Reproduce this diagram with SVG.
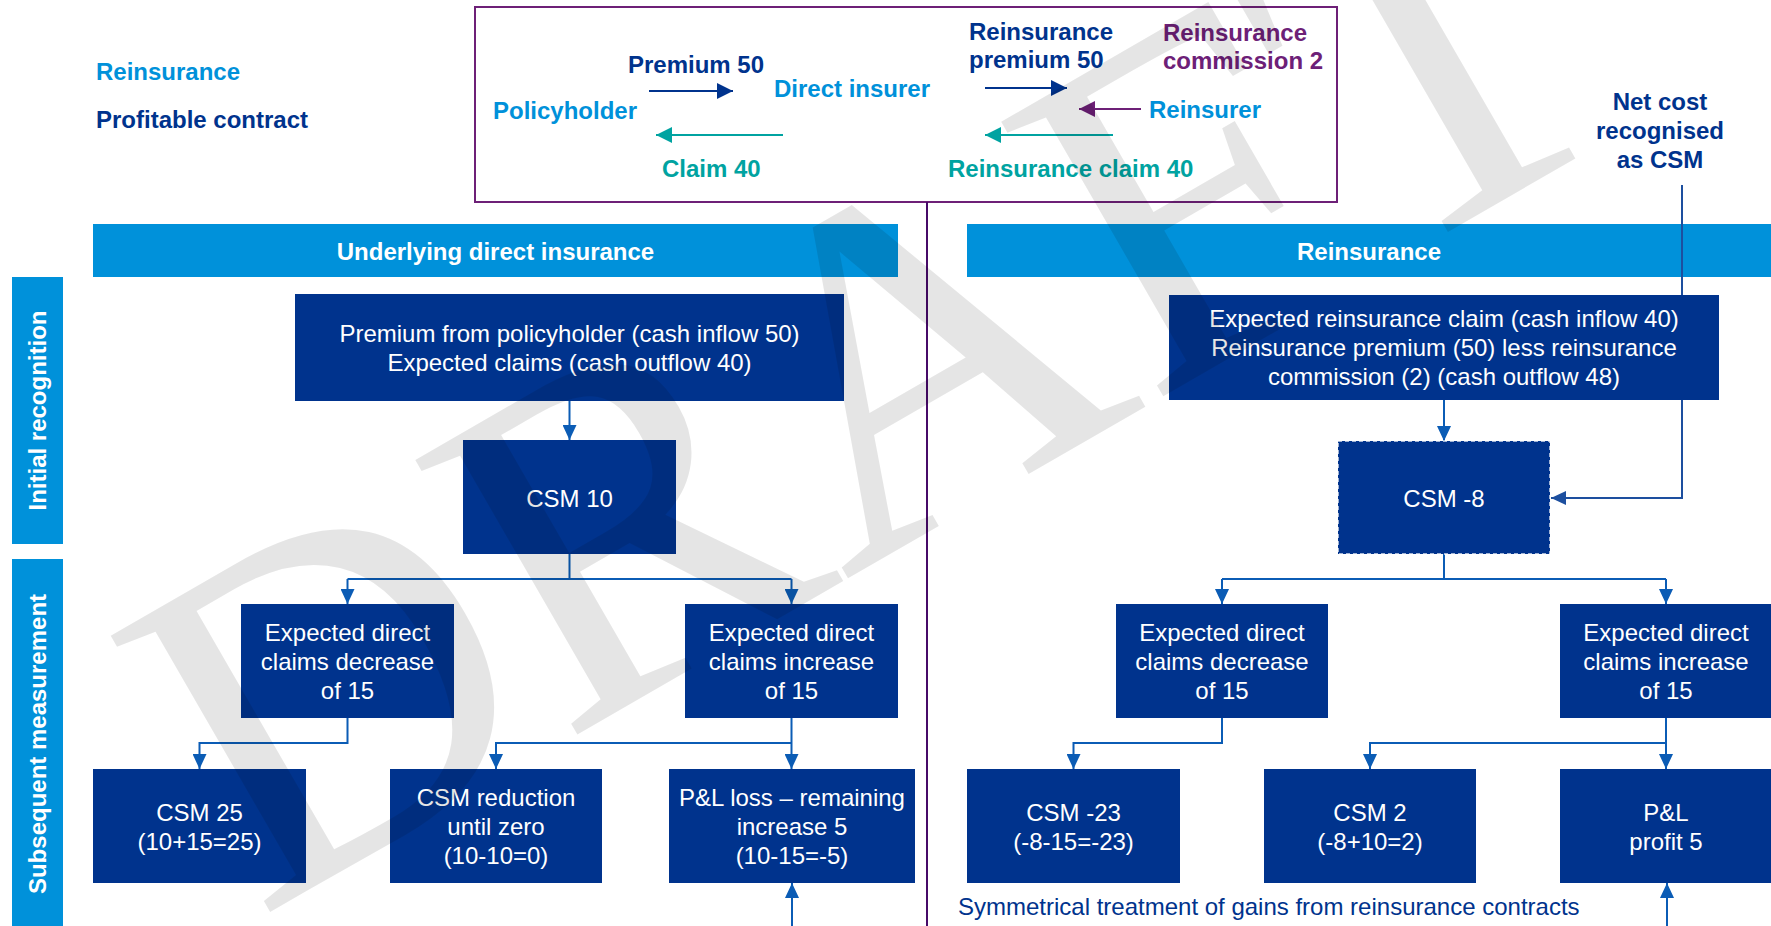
<svg xmlns="http://www.w3.org/2000/svg" width="1771" height="926" viewBox="0 0 1771 926">
<style>
text{font-family:"Liberation Sans",Arial,sans-serif;font-size:24px}
.b{font-weight:bold}
.lb{fill:#0091DA}
.db{fill:#00338D}
.tl{fill:#00A3A1}
.pu{fill:#6D2077}
.w{fill:#FFFFFF}
.box{fill:#00338D}
.hdr{fill:#0091DA}
.c{fill:none;stroke:#0B5CB5;stroke-width:2}
.m{text-anchor:middle}
</style>
<defs>
<marker id="ab" viewBox="0 0 15 14" refX="15" refY="7" markerWidth="15" markerHeight="14" markerUnits="userSpaceOnUse" orient="auto"><path d="M0,0L15,7L0,14z" fill="#0B5CB5"/></marker>
<marker id="an" viewBox="0 0 15 14" refX="15" refY="7" markerWidth="15" markerHeight="14" markerUnits="userSpaceOnUse" orient="auto"><path d="M0,0L15,7L0,14z" fill="#1D4F9F"/></marker>
<marker id="tn" viewBox="0 0 16 16" refX="16" refY="8" markerWidth="16" markerHeight="16" markerUnits="userSpaceOnUse" orient="auto"><path d="M0,0L16,8L0,16z" fill="#00338D"/></marker>
<marker id="tt" viewBox="0 0 16 16" refX="16" refY="8" markerWidth="16" markerHeight="16" markerUnits="userSpaceOnUse" orient="auto"><path d="M0,0L16,8L0,16z" fill="#00A3A1"/></marker>
<marker id="tp" viewBox="0 0 16 16" refX="16" refY="8" markerWidth="16" markerHeight="16" markerUnits="userSpaceOnUse" orient="auto"><path d="M0,0L16,8L0,16z" fill="#6D2077"/></marker>
</defs>
<rect width="1771" height="926" fill="#FFFFFF"/>

<g id="legend">
<text x="96" y="80" class="b lb">Reinsurance</text>
<text x="96" y="128" class="b db">Profitable contract</text>
</g>

<g id="flow-box">
<rect x="475" y="7" width="862" height="195" fill="none" stroke="#6D2077" stroke-width="2"/>
<text x="628" y="73" class="b db">Premium 50</text>
<line x1="649" y1="91" x2="733" y2="91" stroke="#00338D" stroke-width="2" marker-end="url(#tn)"/>
<text x="774" y="97" class="b lb">Direct insurer</text>
<text x="493" y="119" class="b lb">Policyholder</text>
<line x1="783" y1="135" x2="656" y2="135" stroke="#00A3A1" stroke-width="2" marker-end="url(#tt)"/>
<text x="662" y="177" class="b tl">Claim 40</text>
<text x="969" y="40" class="b db">Reinsurance</text>
<text x="969" y="68" class="b db">premium 50</text>
<text x="1163" y="41" class="b pu">Reinsurance</text>
<text x="1163" y="69" class="b pu">commission 2</text>
<line x1="985" y1="88" x2="1067" y2="88" stroke="#00338D" stroke-width="2" marker-end="url(#tn)"/>
<line x1="1141" y1="109" x2="1079" y2="109" stroke="#6D2077" stroke-width="2" marker-end="url(#tp)"/>
<text x="1149" y="118" class="b lb">Reinsurer</text>
<line x1="1113" y1="135" x2="985" y2="135" stroke="#00A3A1" stroke-width="2" marker-end="url(#tt)"/>
<text x="948" y="177" class="b tl">Reinsurance claim 40</text>
</g>

<g id="net-cost-label">
<text x="1660" y="110" class="b db m">Net cost</text>
<text x="1660" y="139" class="b db m">recognised</text>
<text x="1660" y="168" class="b db m">as CSM</text>
</g>

<g id="header-direct">
<rect x="93" y="224" width="805" height="53" class="hdr"/>
<text x="495.5" y="260" class="b w m">Underlying direct insurance</text>
</g>
<g id="header-reinsurance">
<rect x="967" y="224" width="804" height="53" class="hdr"/>
<text x="1369" y="260" class="b w m">Reinsurance</text>
</g>

<g id="side-initial">
<rect x="12" y="277" width="51" height="267" class="hdr"/>
<text transform="translate(46,410.5) rotate(-90)" class="b w m">Initial recognition</text>
</g>
<g id="side-subsequent">
<rect x="12" y="559" width="51" height="367" class="hdr"/>
<text transform="translate(46,744) rotate(-90)" class="b w m">Subsequent measurement</text>
</g>

<g id="divider">
<line x1="927" y1="202" x2="927" y2="926" stroke="#470A68" stroke-width="2"/>
</g>

<g id="connectors">
<path class="c" d="M569.5,401V440" marker-end="url(#ab)"/>
<path class="c" d="M569.5,554V579"/>
<path class="c" d="M347.5,579H791.5"/>
<path class="c" d="M347.5,579V604" marker-end="url(#ab)"/>
<path class="c" d="M791.5,579V604" marker-end="url(#ab)"/>
<path class="c" d="M347.5,718V743H199.5V769" marker-end="url(#ab)"/>
<path class="c" d="M791.5,718V769" marker-end="url(#ab)"/>
<path class="c" d="M791.5,743H496V769" marker-end="url(#ab)"/>
<path class="c" d="M792,926V883" marker-end="url(#ab)"/>
<path class="c" d="M1444,400V441" marker-end="url(#ab)"/>
<path class="c" d="M1444,554V579"/>
<path class="c" d="M1222,579H1666"/>
<path class="c" d="M1222,579V604" marker-end="url(#ab)"/>
<path class="c" d="M1666,579V604" marker-end="url(#ab)"/>
<path class="c" d="M1222,718V743H1073.5V769" marker-end="url(#ab)"/>
<path class="c" d="M1666,718V769" marker-end="url(#ab)"/>
<path class="c" d="M1666,743H1370V769" marker-end="url(#ab)"/>
<path class="c" d="M1667,926V883" marker-end="url(#ab)"/>
<path d="M1682,185V498H1551" fill="none" stroke="#1D4F9F" stroke-width="2" marker-end="url(#an)"/>
</g>

<g id="n-premium">
<rect x="295" y="294" width="549" height="107" class="box"/>
<text x="569.5" y="342" class="w m">Premium from policyholder (cash inflow 50)</text>
<text x="569.5" y="371" class="w m">Expected claims (cash outflow 40)</text>
</g>
<g id="n-csm10">
<rect x="463" y="440" width="213" height="114" class="box"/>
<text x="569.5" y="507" class="w m">CSM 10</text>
</g>
<g id="n-ri-top">
<rect x="1169" y="295" width="550" height="105" class="box"/>
<text x="1444" y="327" class="w m">Expected reinsurance claim (cash inflow 40)</text>
<text x="1444" y="356" class="w m">Reinsurance premium (50) less reinsurance</text>
<text x="1444" y="385" class="w m">commission (2) (cash outflow 48)</text>
</g>
<g id="n-csm-8">
<rect x="1338" y="441" width="212" height="113" class="box" stroke="#FFFFFF" stroke-opacity="0.85" stroke-width="1.5" stroke-dasharray="4 3"/>
<text x="1444" y="507" class="w m">CSM -8</text>
</g>
<g id="n-dec-l">
<rect x="241" y="604" width="213" height="114" class="box"/>
<text x="347.5" y="640.5" class="w m">Expected direct</text>
<text x="347.5" y="669.5" class="w m">claims decrease</text>
<text x="347.5" y="698.5" class="w m">of 15</text>
</g>
<g id="n-inc-l">
<rect x="685" y="604" width="213" height="114" class="box"/>
<text x="791.5" y="640.5" class="w m">Expected direct</text>
<text x="791.5" y="669.5" class="w m">claims increase</text>
<text x="791.5" y="698.5" class="w m">of 15</text>
</g>
<g id="n-dec-r">
<rect x="1116" y="604" width="212" height="114" class="box"/>
<text x="1222" y="640.5" class="w m">Expected direct</text>
<text x="1222" y="669.5" class="w m">claims decrease</text>
<text x="1222" y="698.5" class="w m">of 15</text>
</g>
<g id="n-inc-r">
<rect x="1560" y="604" width="212" height="114" class="box"/>
<text x="1666" y="640.5" class="w m">Expected direct</text>
<text x="1666" y="669.5" class="w m">claims increase</text>
<text x="1666" y="698.5" class="w m">of 15</text>
</g>
<g id="n-csm25">
<rect x="93" y="769" width="213" height="114" class="box"/>
<text x="199.5" y="820.5" class="w m">CSM 25</text>
<text x="199.5" y="849.5" class="w m">(10+15=25)</text>
</g>
<g id="n-csm-red">
<rect x="390" y="769" width="212" height="114" class="box"/>
<text x="496" y="805.5" class="w m">CSM reduction</text>
<text x="496" y="834.5" class="w m">until zero</text>
<text x="496" y="863.5" class="w m">(10-10=0)</text>
</g>
<g id="n-pl-loss">
<rect x="669" y="769" width="246" height="114" class="box"/>
<text x="792" y="805.5" class="w m">P&amp;L loss – remaining</text>
<text x="792" y="834.5" class="w m">increase 5</text>
<text x="792" y="863.5" class="w m">(10-15=-5)</text>
</g>
<g id="n-csm-23">
<rect x="967" y="769" width="213" height="114" class="box"/>
<text x="1073.5" y="820.5" class="w m">CSM -23</text>
<text x="1073.5" y="849.5" class="w m">(-8-15=-23)</text>
</g>
<g id="n-csm2">
<rect x="1264" y="769" width="212" height="114" class="box"/>
<text x="1370" y="820.5" class="w m">CSM 2</text>
<text x="1370" y="849.5" class="w m">(-8+10=2)</text>
</g>
<g id="n-pl-profit">
<rect x="1560" y="769" width="212" height="114" class="box"/>
<text x="1666" y="820.5" class="w m">P&amp;L</text>
<text x="1666" y="849.5" class="w m">profit 5</text>
</g>

<g id="note">
<text x="958" y="915" class="db">Symmetrical treatment of gains from reinsurance contracts</text>
</g>

<g id="watermark">
<text transform="translate(258,919) rotate(-30)" style="font-family:'Liberation Serif','Times New Roman',serif;font-size:487px" fill="#000000" fill-opacity="0.1">DRAFT</text>
</g>
</svg>
